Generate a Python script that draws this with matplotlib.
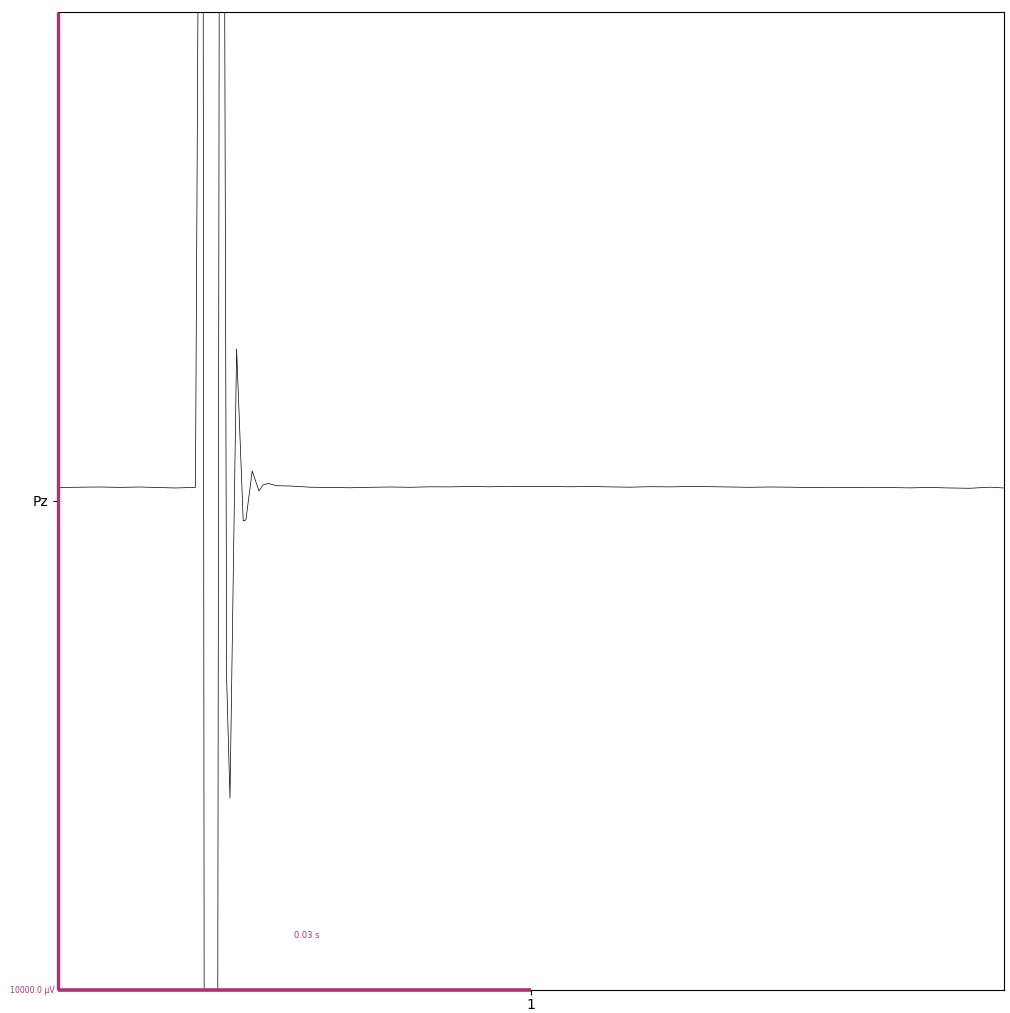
#!/usr/bin/env python3
"""Single-channel epoch trace (Pz) with scale bars, saved to out.png."""
import matplotlib
matplotlib.use("Agg")
import matplotlib.pyplot as plt
import numpy as np

SCALE_COLOR = "#AA3377"

# epoch window (ms) and channel view range (uV)
epoch_ms = 60.0
half_range_uv = 5000.0

channel_names = ["Pz"]
epoch_labels = ["1"]

# Pz trace: time (ms) and amplitude (uV)
time_ms = [
    0.00, 1.40, 2.66, 3.93, 5.20, 6.47, 7.42, 8.37, 8.72,
    8.98, 9.20, 9.39, 9.83, 10.09, 10.28, 10.50, 10.70, 10.91,
    11.33, 11.75, 11.92, 12.32, 12.75, 13.00, 13.34, 13.87,
    14.72, 15.98, 17.25, 18.52, 19.79, 21.06, 22.33, 23.60, 24.86,
    26.13, 27.40, 28.67, 29.94, 31.21, 32.47, 33.74, 35.01, 36.28,
    37.55, 38.82, 40.08, 41.35, 42.62, 43.89, 45.16, 46.43, 47.70,
    48.96, 50.23, 51.50, 52.77, 54.04, 55.31, 56.57, 57.84, 59.11, 60.00,
]
pz_uv = [
    138, 141, 143, 139, 143, 137, 133, 137, 140,
    8190, 7168, -25553, -25553, -10215, 11258, 9213, -1830, -3037,
    1554, -204, -194, 307, 102, 164, 179, 156,
    153, 141, 138, 135, 140, 143, 140, 145, 144,
    148, 145, 150, 148, 149, 145, 148, 144, 141,
    146, 144, 148, 146, 143, 140, 143, 141, 138,
    140, 137, 140, 137, 134, 138, 133, 130, 141, 133,
]

# scale bars
scale_time_s = 0.03
scale_amp_uv = 10000.0

fig = plt.figure(figsize=(10.10, 10.13), dpi=100)
ax = fig.add_axes([0.0574, 0.0227, 0.9366, 0.9655])

ax.plot(time_ms, pz_uv, color="black", linewidth=0.5, zorder=2)

ax.set_xlim(0, epoch_ms)
ax.set_ylim(-half_range_uv, half_range_uv)

ax.set_yticks([0])
ax.set_yticklabels(channel_names)
ax.set_xticks([epoch_ms / 2])
ax.set_xticklabels(epoch_labels)
ax.tick_params(axis="x", pad=2.5)

# vertical amplitude bar along the left edge, horizontal time bar along the bottom
ax.plot([0, 0], [-half_range_uv, half_range_uv], color=SCALE_COLOR,
        linewidth=2.4, clip_on=False, zorder=3, solid_capstyle="butt")
ax.plot([0, scale_time_s * 1000], [-half_range_uv, -half_range_uv],
        color=SCALE_COLOR, linewidth=2.6, clip_on=False, zorder=3,
        solid_capstyle="butt")
ax.text(-0.2, -half_range_uv, f"{scale_amp_uv:.1f} µV", color=SCALE_COLOR,
        fontsize=5.6, ha="right", va="center", clip_on=False)
ax.text(15.8, -4440, f"{scale_time_s:.2f} s", color=SCALE_COLOR,
        fontsize=6, ha="center", va="center")

fig.savefig("out.png", dpi=100)
